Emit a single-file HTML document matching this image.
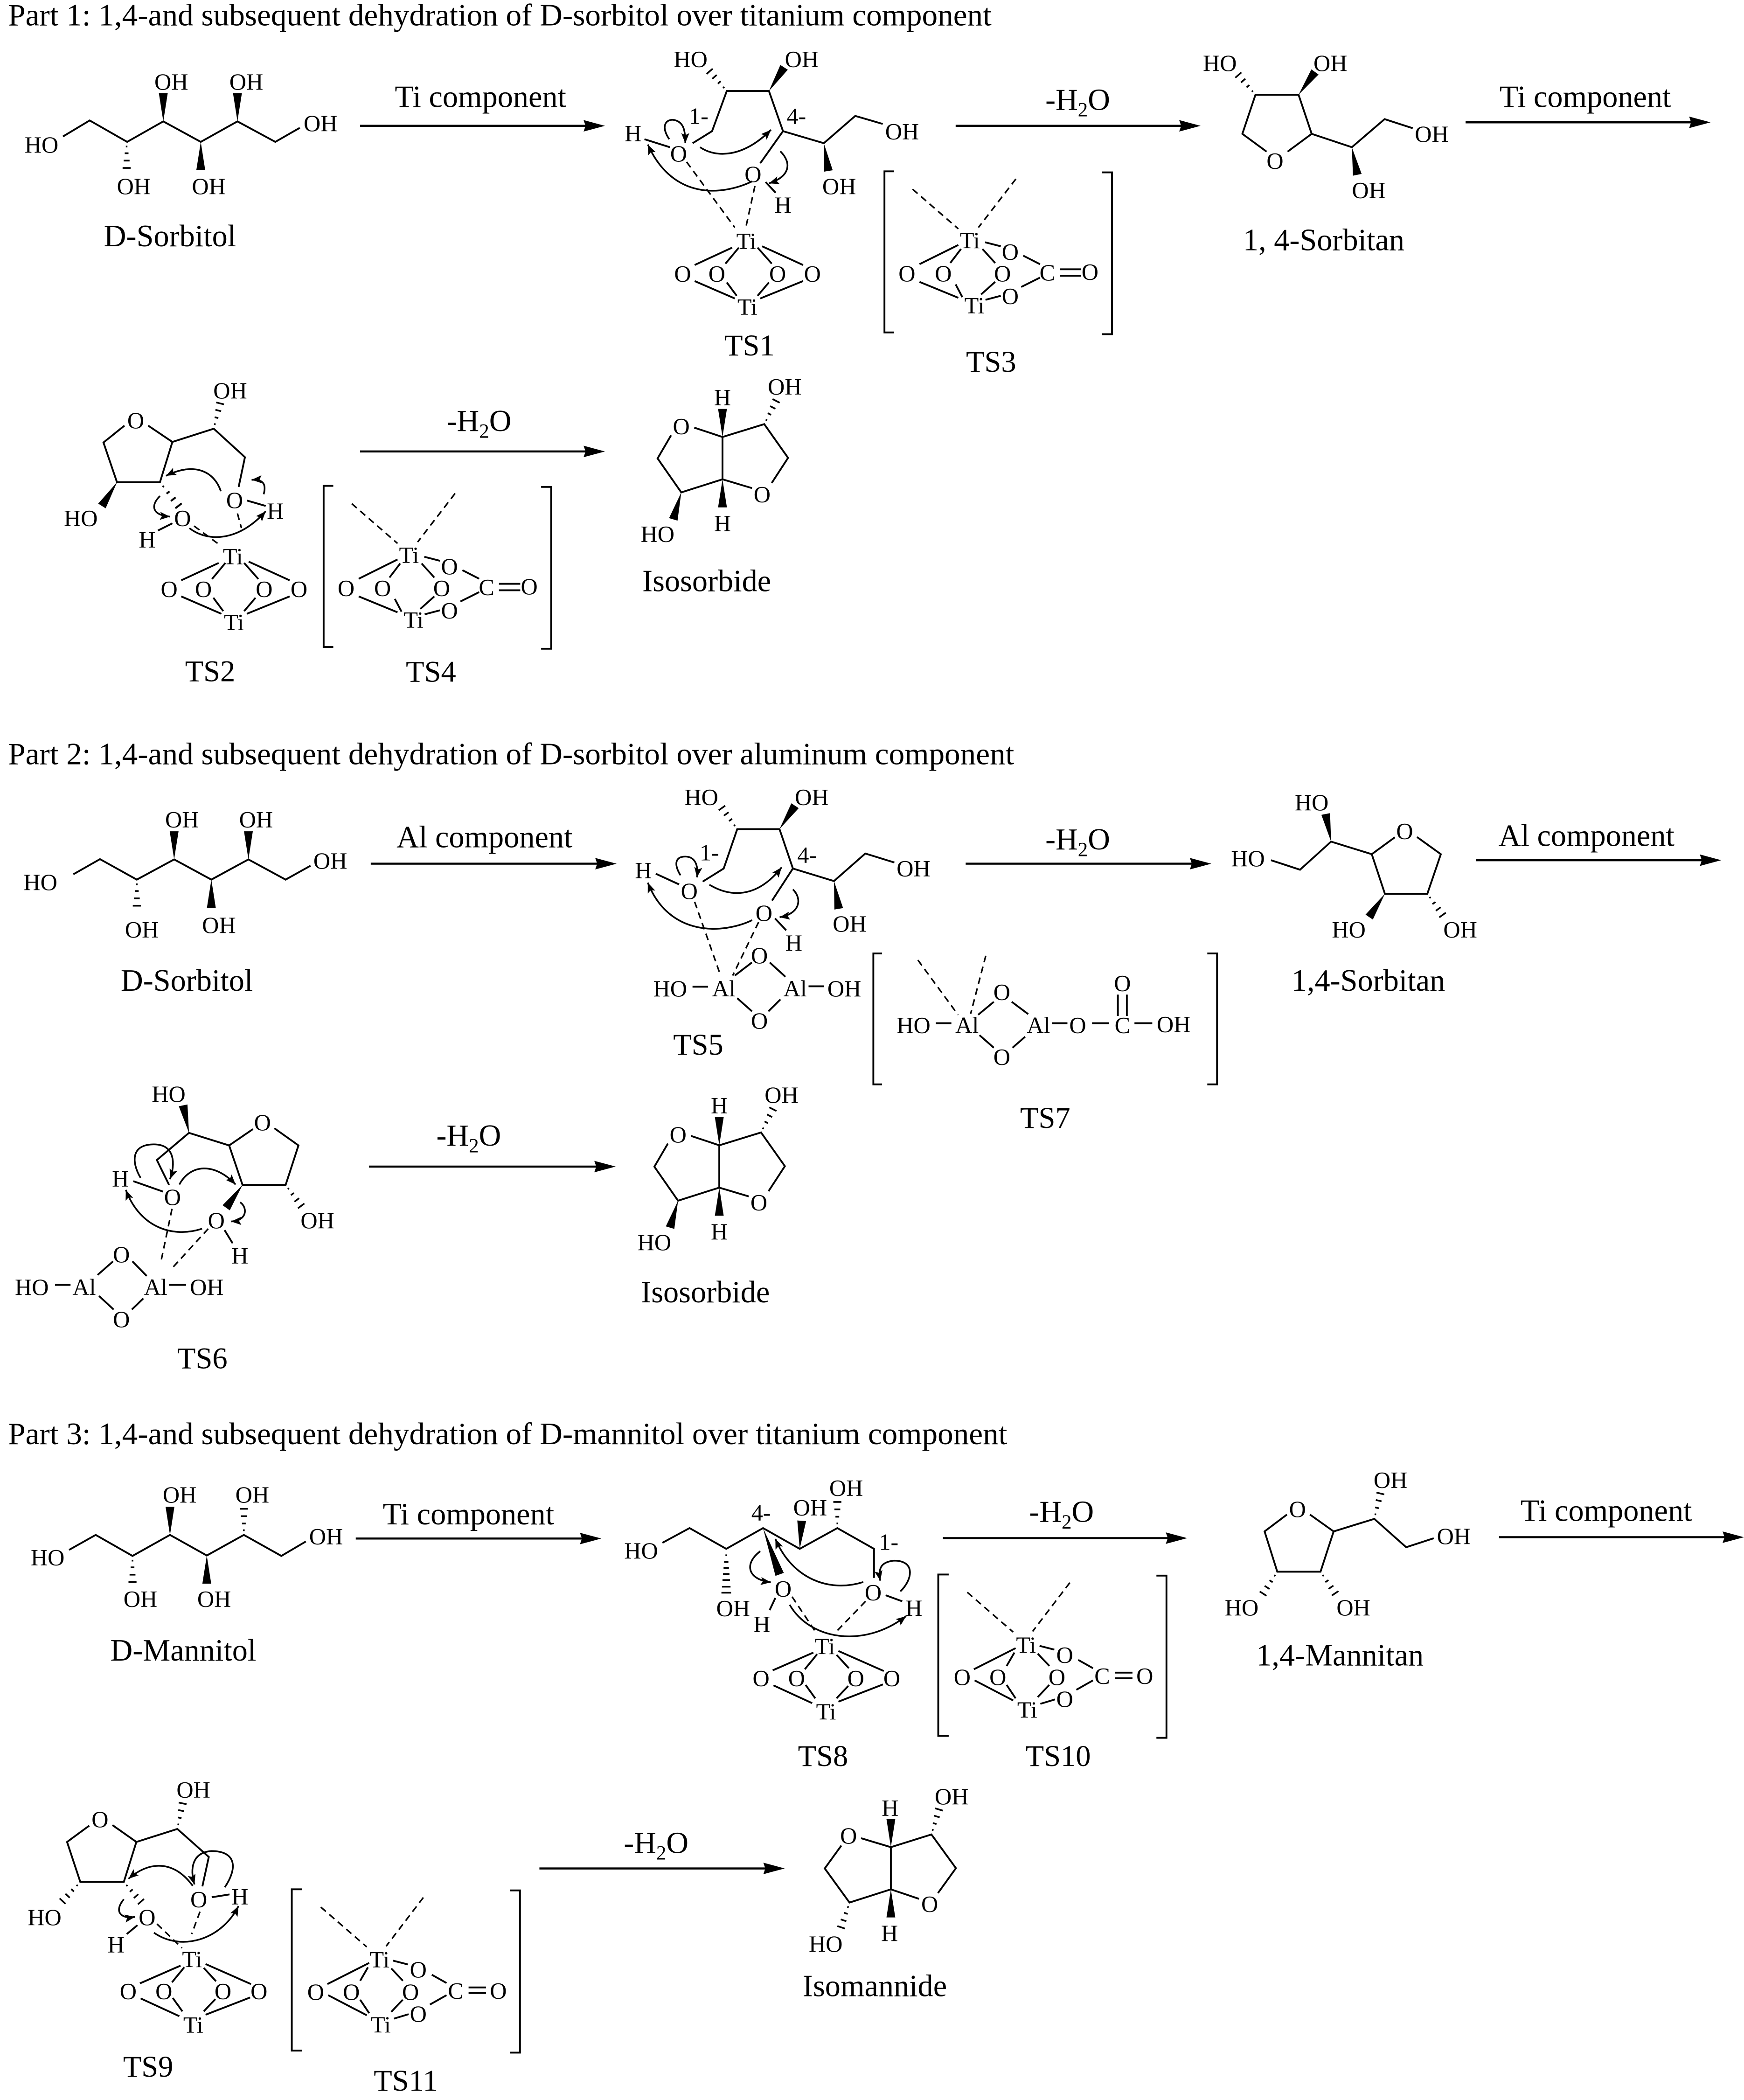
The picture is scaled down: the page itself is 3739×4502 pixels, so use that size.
<!DOCTYPE html>
<html><head><meta charset="utf-8"><title>Dehydration schemes</title>
<style>
html,body{margin:0;padding:0;background:#fff}
svg{display:block}
text{font-family:"Liberation Serif","Times New Roman",serif;fill:#000}
.a text,text.a{font-size:17.5px;text-anchor:middle}
.l{font-size:23px}
.p{font-size:23.42px}
.c{font-size:23.1px;text-anchor:middle}
.b{stroke:#000;stroke-width:1.35;fill:none}
.d{stroke:#000;stroke-width:1.15;fill:none;stroke-dasharray:5 3.4}
.r{stroke:#000;stroke-width:1.55;fill:none}
.k{stroke:#000;stroke-width:1.25;fill:none;marker-end:url(#m)}
.h{stroke:#000;stroke-width:1.25;fill:none}
</style></head><body>
<svg xmlns="http://www.w3.org/2000/svg" width="3739" height="4502" viewBox="0 0 1303 1569" preserveAspectRatio="none">
<defs>
<path id="w" d="M0 0L21 -3.3L21 3.3Z" fill="#000"/>
<path id="x" class="h" d="M3.5 -.6V.6M8.5 -1.4V1.4M14 -2.2V2.2M19.5 -3V3"/>
<path id="ah" d="M0 0L-16 -4.3L-14.5 0L-16 4.3Z" fill="#000"/>
<marker id="m" markerUnits="userSpaceOnUse" markerWidth="10" markerHeight="8" refX="7.5" refY="3" orient="auto"><path d="M0 0L7.5 3L0 6L1.5 3Z" fill="#000"/></marker>
</defs>
<rect width="1303" height="1569" fill="#fff"/>

<!-- PART 1 -->
<text class="p" x="6" y="19">Part 1: 1,4-and subsequent dehydration of D-sorbitol over titanium component</text>

<!-- D-sorbitol -->
<polyline class="b" points="47,102 67,90 95,106 122,90.7 150,106 177.4,90.7 205.7,106 224,95.5"/>
<use href="#w" transform="translate(122,90.7) rotate(-90)"/><use href="#w" transform="translate(177.4,90.7) rotate(-90)"/><use href="#w" transform="translate(150,106) rotate(90)"/><use href="#x" transform="translate(94.6,106) rotate(90)"/>
<g class="a"><text x="31" y="114">HO</text><text x="128" y="67">OH</text><text x="184" y="67">OH</text><text x="239.5" y="98">OH</text><text x="100" y="145">OH</text><text x="156" y="145">OH</text></g>
<text class="c" x="127" y="184">D-Sorbitol</text>

<path class="r" d="M269 94H438"/><use href="#ah" transform="translate(452,94)"/>
<text class="c" x="359" y="80">Ti component</text>

<!-- TS1 -->
<polyline class="b" points="517.5,107 532,98 543,68 574.5,68 585,98 615.5,107 639,86.6 659.5,92.6"/>
<path class="b" d="M585 98L568 122M481.5 104L500.5 110M572 136L579.5 144"/>
<use href="#x" transform="translate(543,68) rotate(-131)"/><use href="#w" transform="translate(574.5,68) rotate(-57.4)"/><use href="#w" transform="translate(615.5,107) rotate(80.7)"/>
<path class="d" d="M513 121L549 170M564 139L557 171"/>
<g class="a"><text x="516" y="50">HO</text><text x="599" y="50">OH</text><text x="674" y="104">OH</text><text x="627" y="145">OH</text><text x="473" y="105.5">H</text><text x="507" y="120.5">O</text><text x="562.6" y="136">O</text><text x="585" y="159">H</text><text x="522" y="92.5">1-</text><text x="595" y="92.5">4-</text></g>
<path class="k" d="M500 104C492 92 500 88 505 90C511 92 512 98 512 107"/>
<path class="k" d="M523 110C535 118 555 118 576 97"/>
<path class="k" d="M562 135.5C540 146 503 150 484 108"/>
<path class="k" d="M583 113C592 122 590 132 574.5 137"/>
<g id="c1">
<g class="a"><text x="557.6" y="186">Ti</text><text x="558.4" y="235">Ti</text><text x="510" y="210.3">O</text><text x="535.6" y="210.3">O</text><text x="581" y="210.3">O</text><text x="607" y="210.3">O</text></g>
<path class="b" d="M547 185L519 198M552 185L542 197M566 185L576.6 197M569.4 184L600 198M519 210L549 223M543 211L550.4 221M574.5 211L566 221M600 210L568 223"/>
</g>
<text class="c" x="560" y="265.5" style="font-size:22.5px">TS1</text>

<!-- TS3 -->
<g>
<path class="b" d="M668 128H660.8V248.4H668M823.3 128.8H830.8V249.7H823.3"/>
<path class="d" d="M681.8 141.3L716 171M759 133.7L731 170"/>
<g class="a"><text x="724.6" y="185.5">Ti</text><text x="728" y="234">Ti</text><text x="677.6" y="210.2">O</text><text x="704.8" y="210.2">O</text><text x="749" y="210.2">O</text><text x="754.8" y="194">O</text><text x="754.8" y="227">O</text><text x="782.5" y="209.5">C</text><text x="814.4" y="209">O</text></g>
<path class="b" d="M716 183L687 197.4M718 186L710 196.5M734 186L743.5 196.5M736 181L747.7 184M764.5 191L777 197.4M763 214.4L777 207.4M791.8 201.2H807.7M791.8 206H807.7M687 210.6L716 222.5M714 212.5L719 222M743.5 210.6L733 220M747.7 221L736.3 224"/>
</g>
<text class="c" x="740.5" y="277.7" style="font-size:22.5px">TS3</text>

<text class="l" x="781" y="82">-H<tspan dy="5" style="font-size:15px">2</tspan><tspan dy="-5">O</tspan></text>
<path class="r" d="M714 94H883"/><use href="#ah" transform="translate(897,94)"/>

<!-- 1,4-sorbitan -->
<polyline class="b" points="946.3,113.3 928.2,100 938,70.8 970.2,70.8 980,100 962,113.3"/>
<polyline class="b" points="980,100 1010,110 1034.5,89 1055.5,95.8"/>
<use href="#x" transform="translate(938,70.8) rotate(-131)"/><use href="#w" transform="translate(970.2,70.8) rotate(-54.3)"/><use href="#w" transform="translate(1010,110) rotate(78.8)"/>
<g class="a"><text x="911.4" y="53">HO</text><text x="994" y="53">OH</text><text x="952.6" y="126">O</text><text x="1069.7" y="106">OH</text><text x="1022.7" y="148">OH</text></g>
<text class="c" x="989" y="187">1, 4-Sorbitan</text>
<path class="r" d="M1095 91.4H1264"/><use href="#ah" transform="translate(1278,91.4)"/>
<text class="c" x="1184.4" y="80">Ti component</text>

<!-- TS2 -->
<polyline class="b" points="93,318 77.3,330.6 87.4,360.3 119.5,360.3 128.8,330.2 110.7,318"/>
<polyline class="b" points="128.8,330.2 159.7,320.3 183,341.6 178.3,363.8"/>
<path class="b" d="M184.6 374L198.5 378M128.8 391L118 396.4"/>
<use href="#x" transform="translate(159.7,320.3) rotate(-76)"/><use href="#w" transform="translate(87.4,360.3) rotate(122.4)"/><use href="#x" transform="translate(119.5,360.3) rotate(51.8) scale(1.15,1)"/>
<path class="d" d="M145 393L162.6 406M177.4 383.6L180.4 394.6"/>
<g class="a"><text x="172" y="297.6">OH</text><text x="101.4" y="320">O</text><text x="175.3" y="379.6">O</text><text x="205.7" y="387.6">H</text><text x="60.4" y="393">HO</text><text x="136.4" y="393">O</text><text x="110" y="409">H</text></g>
<path class="k" d="M165 367C160 352 145 345 124 355.5"/>
<path class="k" d="M197 369.3C199 362 197 358 188 358.5"/>
<path class="k" d="M119.5 370.6C112 378 114 385 127 386"/>
<path class="k" d="M141.5 394.6C155 405 178 405 198.5 382"/>
<g transform="translate(-383.6,235.6)">
<g class="a"><text x="557.6" y="186">Ti</text><text x="558.4" y="235">Ti</text><text x="510" y="210.3">O</text><text x="535.6" y="210.3">O</text><text x="581" y="210.3">O</text><text x="607" y="210.3">O</text></g>
<path class="b" d="M547 185L519 198M552 185L542 197M566 185L576.6 197M569.4 184L600 198M519 210L549 223M543 211L550.4 221M574.5 211L566 221M600 210L568 223"/>
</g>
<text class="c" x="157" y="509" style="font-size:22.5px">TS2</text>

<!-- TS4 -->
<g transform="translate(-419,235)">
<path class="b" d="M668 128H660.8V248.4H668M823.3 128.8H830.8V249.7H823.3"/>
<path class="d" d="M681.8 141.3L716 171M759 133.7L731 170"/>
<g class="a"><text x="724.6" y="185.5">Ti</text><text x="728" y="234">Ti</text><text x="677.6" y="210.2">O</text><text x="704.8" y="210.2">O</text><text x="749" y="210.2">O</text><text x="754.8" y="194">O</text><text x="754.8" y="227">O</text><text x="782.5" y="209.5">C</text><text x="814.4" y="209">O</text></g>
<path class="b" d="M716 183L687 197.4M718 186L710 196.5M734 186L743.5 196.5M736 181L747.7 184M764.5 191L777 197.4M763 214.4L777 207.4M791.8 201.2H807.7M791.8 206H807.7M687 210.6L716 222.5M714 212.5L719 222M743.5 210.6L733 220M747.7 221L736.3 224"/>
</g>
<text class="c" x="322" y="509.3" style="font-size:22.5px">TS4</text>

<text class="l" x="333.7" y="322">-H<tspan dy="5" style="font-size:15px">2</tspan><tspan dy="-5">O</tspan></text>
<path class="r" d="M269 337.3H438"/><use href="#ah" transform="translate(452,337.3)"/>

<!-- Isosorbide -->
<g>
<path class="b" d="M539.8 326.5V358.1M518.7 319.5L539.8 326.5L571 316.9L588.8 342.1L576.6 360.8M561.8 364.7L539.8 358.1L509 367.9L491.3 342.5L501.4 325.2"/>
<use href="#w" transform="translate(539.8,326.5) rotate(-90)"/><use href="#w" transform="translate(539.8,358.1) rotate(90)"/><use href="#w" transform="translate(509,367.9) rotate(106.5)"/><use href="#x" transform="translate(571,316.9) rotate(-63)"/>
<g class="a"><text x="586.3" y="294.6">OH</text><text x="539.8" y="302.6">H</text><text x="509" y="324.3">O</text><text x="569.4" y="375.1">O</text><text x="539.8" y="396.8">H</text><text x="491.3" y="404.8">HO</text></g>
</g>
<text class="c" x="528" y="441.7">Isosorbide</text>

<!-- PART 2 -->
<text class="p" x="6" y="571">Part 2: 1,4-and subsequent dehydration of D-sorbitol over aluminum component</text>

<polyline class="b" points="54.8,653.2 74.7,641.9 102.2,657.2 130.1,642.1 157.9,657.2 185.6,642.1 213.4,657.2 232,646.8"/>
<use href="#w" transform="translate(130.1,642.1) rotate(-90)"/><use href="#w" transform="translate(185.6,642.1) rotate(-90)"/><use href="#w" transform="translate(157.9,657.2) rotate(90)"/><use href="#x" transform="translate(102.2,657.2) rotate(90)"/>
<g class="a"><text x="30.2" y="665">HO</text><text x="136" y="618">OH</text><text x="191.3" y="618">OH</text><text x="246.8" y="649">OH</text><text x="106" y="700.3">OH</text><text x="163.6" y="697">OH</text></g>
<text class="c" x="139.6" y="740.3">D-Sorbitol</text>

<path class="r" d="M277 645.3H446.5"/><use href="#ah" transform="translate(460.7,645.3)"/>
<text class="c" x="362" y="633">Al component</text>

<!-- TS5 -->
<polyline class="b" points="525,658.7 540.7,648.9 550.8,619.5 582.4,619.5 592.4,648.9 623.1,658.3 646.5,637.7 668.2,644.4"/>
<path class="b" d="M592.4 648.9L576.8 672.9M490 652.8L507.4 660.8M579 686.2L587.4 695.1M517.4 737.2H529M604.1 736.9H615.8M549 728.9L561.8 719.1M575.1 719.1L586.8 729.8M550.8 745.8L561.8 755.6M583.1 746.7L574.1 755.6"/>
<use href="#x" transform="translate(550.8,619.5) rotate(-125.8)"/><use href="#w" transform="translate(582.4,619.5) rotate(-56.5)"/><use href="#w" transform="translate(623.1,658.3) rotate(80.3)"/>
<path class="d" d="M519 673.8L538.4 728.9M566.8 688.9L547.4 728.9"/>
<g class="a"><text x="524" y="601.4">HO</text><text x="606.5" y="601.4">OH</text><text x="682.5" y="654.7">OH</text><text x="634.8" y="696">OH</text><text x="480.7" y="656">H</text><text x="515" y="671.6">O</text><text x="570.8" y="688">O</text><text x="593.1" y="710.3">H</text><text x="530" y="642.8">1-</text><text x="603" y="644.6">4-</text><text x="500.7" y="744.5">HO</text><text x="540.8" y="744.5">Al</text><text x="594.1" y="744.5">Al</text><text x="630.8" y="744.5">OH</text><text x="567.4" y="719.6">O</text><text x="567.4" y="768.5">O</text></g>
<path class="k" d="M508.4 654C503 645 505 640 512 640C519 640 522 646 520.7 655.5"/>
<path class="k" d="M530 661C545 670 565 672 584 648"/>
<path class="k" d="M562 687.5C540 698 500 700 484 659.5"/>
<path class="k" d="M592.4 664.5C600 672 597 683 582.5 685.3"/>
<text class="c" x="521.7" y="788" style="font-size:22.5px">TS5</text>

<!-- TS7 -->
<path class="b" d="M659 712.4H652.5V810.2H659M902 712.4H909.3V810.2H902"/>
<path class="d" d="M685.8 717.3L715.8 758.2M736.5 714.1L725.2 757.4"/>
<path class="b" d="M699.2 764.5H710.8M785.9 764.5H797.5M815.9 764.5H828.6M847.6 764.5H860.9M730.8 758.2L742.5 748.5M755.9 748.5L768.2 757.7M731.8 773.4L742.5 782.8M765.9 774.6L756.5 782.8M835.2 743.1V759.1M841.9 743.1V759.1"/>
<g class="a"><text x="682.5" y="771.7">HO</text><text x="722.5" y="771.7">Al</text><text x="775.9" y="771.7">Al</text><text x="805.2" y="771.7">O</text><text x="838.6" y="771.7">C</text><text x="876.9" y="771">OH</text><text x="748.5" y="747.1">O</text><text x="748.5" y="795.5">O</text><text x="838.6" y="740.4">O</text></g>
<text class="c" x="780.9" y="842.7" style="font-size:22.5px">TS7</text>

<text class="l" x="781" y="634.7">-H<tspan dy="5" style="font-size:15px">2</tspan><tspan dy="-5">O</tspan></text>
<path class="r" d="M721.5 645.3H891"/><use href="#ah" transform="translate(905,645.3)"/>

<!-- 1,4-sorbitan 2 -->
<polyline class="b" points="949.6,642.7 971.3,649.8 994.5,628.8 1024.9,638.2 1042.1,625.6"/>
<polyline class="b" points="1024.9,638.2 1034.7,667.8 1066.4,667.8 1076.5,638.2 1058.7,625.4"/>
<use href="#w" transform="translate(994.5,628.8) rotate(-101)"/><use href="#w" transform="translate(1034.7,667.8) rotate(124)"/><use href="#x" transform="translate(1066.4,667.8) rotate(54.3)"/>
<g class="a"><text x="980" y="605.3">HO</text><text x="1049.5" y="626.8">O</text><text x="932.4" y="647.1">HO</text><text x="1007.7" y="700.4">HO</text><text x="1091" y="700.4">OH</text></g>
<text class="c" x="1022.3" y="740.3">1,4-Sorbitan</text>
<path class="r" d="M1102.9 642.7H1272"/><use href="#ah" transform="translate(1286,642.7)"/>
<text class="c" x="1185.3" y="632">Al component</text>

<!-- TS6 -->
<polyline class="b" points="189,843.6 171.2,855.8 141.2,846.4 117.2,866.7 126.3,885.3"/>
<polyline class="b" points="171.2,855.8 181.2,885.3 213.4,885.3 223,855.8 205,843"/>
<path class="b" d="M99.6 882.5L121.8 890.3M167.8 919.1L173.8 928.9M41.1 960H52.7M126.3 960H139M72.9 952.6L84.5 942.4M98.9 942.4L109.6 953.3M74 968.3L84.9 978.4M107.1 970.1L98.5 978.4"/>
<use href="#w" transform="translate(141.2,846.4) rotate(-102)"/><use href="#w" transform="translate(181.2,885.3) rotate(125.6)"/><use href="#x" transform="translate(213.4,885.3) rotate(53.4)"/>
<path class="d" d="M128.5 903.2L120.5 941.4M155.6 918L128.5 947.6"/>
<g class="a"><text x="126" y="823.1">HO</text><text x="196.1" y="844.5">O</text><text x="237.2" y="917.6">OH</text><text x="128.9" y="900.2">O</text><text x="90" y="886.5">H</text><text x="161.6" y="917.6">O</text><text x="179.2" y="944">H</text><text x="23.8" y="967.4">HO</text><text x="62.9" y="967.4">Al</text><text x="116.3" y="967.4">Al</text><text x="154.5" y="967.4">OH</text><text x="90.7" y="943">O</text><text x="90.7" y="991.5">O</text></g>
<path class="k" d="M105 880C98 868 98 855 115 855C131 855 131 870 127 881"/>
<path class="k" d="M134 885C142 870 160 868 176 885"/>
<path class="k" d="M151 918C130 925 105 918 94 889"/>
<path class="k" d="M179.4 898.3C185 902 185 912 172.7 912.6"/>
<text class="c" x="151.2" y="1022.3" style="font-size:22.5px">TS6</text>

<text class="l" x="326" y="856">-H<tspan dy="5" style="font-size:15px">2</tspan><tspan dy="-5">O</tspan></text>
<path class="r" d="M275.7 871.6H446"/><use href="#ah" transform="translate(460,871.6)"/>

<!-- Isosorbide 2 -->
<g transform="translate(-2.4,529.2)">
<path class="b" d="M539.8 326.5V358.1M518.7 319.5L539.8 326.5L571 316.9L588.8 342.1L576.6 360.8M561.8 364.7L539.8 358.1L509 367.9L491.3 342.5L501.4 325.2"/>
<use href="#w" transform="translate(539.8,326.5) rotate(-90)"/><use href="#w" transform="translate(539.8,358.1) rotate(90)"/><use href="#w" transform="translate(509,367.9) rotate(106.5)"/><use href="#x" transform="translate(571,316.9) rotate(-63)"/>
<g class="a"><text x="586.3" y="294.6">OH</text><text x="539.8" y="302.6">H</text><text x="509" y="324.3">O</text><text x="569.4" y="375.1">O</text><text x="539.8" y="396.8">H</text><text x="491.3" y="404.8">HO</text></g>
</g>
<text class="c" x="527" y="973">Isosorbide</text>

<!-- PART 3 -->
<text class="p" x="6" y="1079">Part 3: 1,4-and subsequent dehydration of D-mannitol over titanium component</text>

<polyline class="b" points="51.6,1158 71.5,1146.8 99,1162.5 127,1146.8 154.5,1162.2 182.2,1146.8 210.2,1162.5 228.5,1151.7"/>
<use href="#w" transform="translate(127,1146.8) rotate(-90)"/><use href="#x" transform="translate(182.2,1146.8) rotate(-90)"/><use href="#w" transform="translate(154.5,1162.2) rotate(90)"/><use href="#x" transform="translate(99,1162.5) rotate(90)"/>
<g class="a"><text x="35.6" y="1169.4">HO</text><text x="134.2" y="1122.6">OH</text><text x="188.5" y="1122.6">OH</text><text x="243.6" y="1153.8">OH</text><text x="104.9" y="1200.5">OH</text><text x="160" y="1200.5">OH</text></g>
<text class="c" x="136.9" y="1240.7">D-Mannitol</text>

<path class="r" d="M265.8 1149.5H435"/><use href="#ah" transform="translate(449.3,1149.5)"/>
<text class="c" x="350" y="1139">Ti component</text>

<!-- TS8 -->
<polyline class="b" points="494.9,1152.7 515.2,1141.7 542.6,1157.2 570.1,1141.7 597.5,1157.2 625.6,1141.7 653,1157.2 653,1178.9"/>
<path class="b" d="M579.3 1193.9L575 1203M661.7 1191.9L674.1 1196.4"/>
<path class="h" d="M542 1162H543.2M541 1167H544.2M540.6 1171.5H544.6M540.2 1176H545M539.8 1180.5H545.4M539.4 1185.5H545.8M539 1190H546.2"/>
<use href="#w" transform="translate(597.5,1157.2) rotate(-86)"/><use href="#x" transform="translate(625.6,1141.7) rotate(-90)"/><use href="#w" transform="translate(570.1,1141.7) rotate(70.3) scale(1.75,1)"/>
<path class="d" d="M591.8 1193L609.1 1218.9M646.7 1196.4L625 1218.9"/>
<g class="a"><text x="479" y="1164.3">HO</text><text x="632.2" y="1117.5">OH</text><text x="605.3" y="1132.1">OH</text><text x="568.6" y="1136">4-</text><text x="664" y="1158">1-</text><text x="547.8" y="1207.5">OH</text><text x="585.1" y="1192.7">O</text><text x="569.2" y="1219.2">H</text><text x="652.4" y="1195.5">O</text><text x="682.8" y="1207.2">H</text></g>
<path class="k" d="M568 1159C556 1168 558 1180 575.9 1182.2"/>
<path class="k" d="M645 1182C620 1190 592 1180 579.3 1149.7"/>
<path class="k" d="M672.7 1189C682 1180 684 1166 668 1166C658 1167 656 1172 657.7 1181"/>
<path class="k" d="M590 1199C605 1225 645 1232 677 1207.5"/>
<g>
<g class="a"><text x="616.3" y="1235.8">Ti</text><text x="617.2" y="1284.7">Ti</text><text x="568.6" y="1259.7">O</text><text x="595.2" y="1259.7">O</text><text x="639.4" y="1259.7">O</text><text x="666.3" y="1259.7">O</text></g>
<path class="b" d="M607.7 1234.7L577.3 1248M610.5 1235.9L601.3 1247.2M625 1236.4L634.2 1246.4M626.4 1233.5L660.3 1248.5M577.9 1259.2L606.8 1272.5M601.9 1258.9L609.1 1268.9M633.7 1259.7L625 1268.9M659.7 1258.5L626.4 1271.4"/>
</g>
<text class="c" x="614.9" y="1319.4" style="font-size:22.5px">TS8</text>

<!-- TS10 -->
<g>
<path class="b" d="M708.8 1176.4H701V1296.9H708.8M864 1177.2H871.5V1298.4H864"/>
<path class="d" d="M722.7 1189.7L757 1219.4M799.3 1182.5L771.5 1218.9"/>
<g class="a"><text x="766.6" y="1234.7">Ti</text><text x="767.5" y="1283.3">Ti</text><text x="718.9" y="1258.8">O</text><text x="745.5" y="1258.8">O</text><text x="789.7" y="1258.8">O</text><text x="795.5" y="1242.2">O</text><text x="795.5" y="1275.2">O</text><text x="823.5" y="1258">C</text><text x="855.3" y="1258">O</text></g>
<path class="b" d="M758.8 1231.4L727.6 1247.2M757.9 1234.7L752.1 1244.7M775.3 1235.5L784 1244.7M776.7 1229.7L787.7 1232.5M805.6 1240.2L816.6 1246.4M804.2 1262.5L816.6 1255.5M833.1 1249.7H846.1M833.1 1253.9H846.1M728.2 1255.5L757 1270.5M752.1 1258.9L758.8 1268.9M783.9 1258.9L775.3 1268M788.3 1269.7L777.3 1273"/>
</g>
<text class="c" x="790.6" y="1319.4" style="font-size:22.5px">TS10</text>

<text class="l" x="768.9" y="1137">-H<tspan dy="5" style="font-size:15px">2</tspan><tspan dy="-5">O</tspan></text>
<path class="r" d="M704.5 1149.2H873"/><use href="#ah" transform="translate(887,1149.2)"/>

<!-- 1,4-mannitan -->
<polyline class="b" points="961.5,1131.6 944.8,1144.2 954.3,1174.3 986.6,1174.3 996.4,1144.2 978.7,1131.6"/>
<polyline class="b" points="996.4,1144.2 1026.8,1134.8 1050.6,1156 1071.2,1149.3"/>
<use href="#x" transform="translate(1026.8,1134.8) rotate(-76.6)"/><use href="#x" transform="translate(954.3,1174.3) rotate(122.9)"/><use href="#x" transform="translate(986.6,1174.3) rotate(56)"/>
<g class="a"><text x="969.4" y="1133.4">O</text><text x="1038.9" y="1111.6">OH</text><text x="1086.2" y="1153.5">OH</text><text x="927.7" y="1206.9">HO</text><text x="1011.2" y="1206.9">OH</text></g>
<text class="c" x="1001.1" y="1244.3">1,4-Mannitan</text>
<path class="r" d="M1120 1148.5H1289"/><use href="#ah" transform="translate(1303,1148.5)"/>
<text class="c" x="1200.1" y="1136.3">Ti component</text>

<!-- TS9 -->
<polyline class="b" points="66.7,1364 50.1,1376.2 60,1406.1 92.5,1406.1 101.9,1376.2 84,1363.6"/>
<polyline class="b" points="101.9,1376.2 132.5,1366.5 156,1387.4 151.2,1409.4"/>
<path class="b" d="M102.7 1438.4L94.7 1445M158.2 1417.5L171.5 1415.4"/>
<use href="#x" transform="translate(132.5,1366.5) rotate(-78.4)"/><use href="#x" transform="translate(60,1406.1) rotate(132.8)"/><use href="#x" transform="translate(92.5,1406.1) rotate(49)"/>
<path class="d" d="M117.3 1437.5L136 1455.4M149.4 1428.3L143.2 1445"/>
<g class="a"><text x="144.5" y="1343">OH</text><text x="74.7" y="1365.1">O</text><text x="33.3" y="1438.3">HO</text><text x="109.9" y="1438.3">O</text><text x="86.7" y="1458.7">H</text><text x="148.5" y="1424.9">O</text><text x="179.2" y="1422.8">H</text></g>
<path class="k" d="M144 1409C130 1390 112 1390 96 1403.7"/>
<path class="k" d="M168 1410C178 1395 176 1383 158 1383C143 1384 142 1397 145.3 1408"/>
<path class="k" d="M92.5 1419C85 1428 90 1434 100.8 1432.2"/>
<path class="k" d="M115 1444C135 1458 165 1450 178.2 1424.1"/>
<g transform="translate(-472.8,233.9)">
<g class="a"><text x="616.3" y="1235.8">Ti</text><text x="617.2" y="1284.7">Ti</text><text x="568.6" y="1259.7">O</text><text x="595.2" y="1259.7">O</text><text x="639.4" y="1259.7">O</text><text x="666.3" y="1259.7">O</text></g>
<path class="b" d="M607.7 1234.7L577.3 1248M610.5 1235.9L601.3 1247.2M625 1236.4L634.2 1246.4M626.4 1233.5L660.3 1248.5M577.9 1259.2L606.8 1272.5M601.9 1258.9L609.1 1268.9M633.7 1259.7L625 1268.9M659.7 1258.5L626.4 1271.4"/>
</g>
<text class="c" x="110.7" y="1551.5" style="font-size:22.5px">TS9</text>

<!-- TS11 -->
<g transform="translate(-483,235.2)">
<path class="b" d="M708.8 1176.4H701V1296.9H708.8M864 1177.2H871.5V1298.4H864"/>
<path class="d" d="M722.7 1189.7L757 1219.4M799.3 1182.5L771.5 1218.9"/>
<g class="a"><text x="766.6" y="1234.7">Ti</text><text x="767.5" y="1283.3">Ti</text><text x="718.9" y="1258.8">O</text><text x="745.5" y="1258.8">O</text><text x="789.7" y="1258.8">O</text><text x="795.5" y="1242.2">O</text><text x="795.5" y="1275.2">O</text><text x="823.5" y="1258">C</text><text x="855.3" y="1258">O</text></g>
<path class="b" d="M758.8 1231.4L727.6 1247.2M757.9 1234.7L752.1 1244.7M775.3 1235.5L784 1244.7M776.7 1229.7L787.7 1232.5M805.6 1240.2L816.6 1246.4M804.2 1262.5L816.6 1255.5M833.1 1249.7H846.1M833.1 1253.9H846.1M728.2 1255.5L757 1270.5M752.1 1258.9L758.8 1268.9M783.9 1258.9L775.3 1268M788.3 1269.7L777.3 1273"/>
</g>
<text class="c" x="303.2" y="1562" style="font-size:22.5px">TS11</text>

<text class="l" x="466" y="1384.4">-H<tspan dy="5" style="font-size:15px">2</tspan><tspan dy="-5">O</tspan></text>
<path class="r" d="M403 1396H572"/><use href="#ah" transform="translate(586.3,1396)"/>

<!-- Isomannide -->
<path class="b" d="M665.6 1380.1V1411.6M643.3 1373.4L665.6 1380.1L695.9 1370.6L714.2 1395.8L700.8 1414.4M686.6 1418.7L665.6 1411.6L634.7 1421.5L616.2 1396L628.6 1378.9"/>
<use href="#w" transform="translate(665.6,1380.1) rotate(-90)"/><use href="#w" transform="translate(665.6,1411.6) rotate(90)"/><use href="#x" transform="translate(695.9,1370.6) rotate(-73.2)"/><use href="#x" transform="translate(634.7,1421.5) rotate(108.6)"/>
<g class="a"><text x="711" y="1348">OH</text><text x="665" y="1356.6">H</text><text x="634" y="1377.4">O</text><text x="694.6" y="1428.4">O</text><text x="664.6" y="1450.2">H</text><text x="616.9" y="1458.1">HO</text></g>
<text class="c" x="653.6" y="1491.4">Isomannide</text>
</svg>
</body></html>
